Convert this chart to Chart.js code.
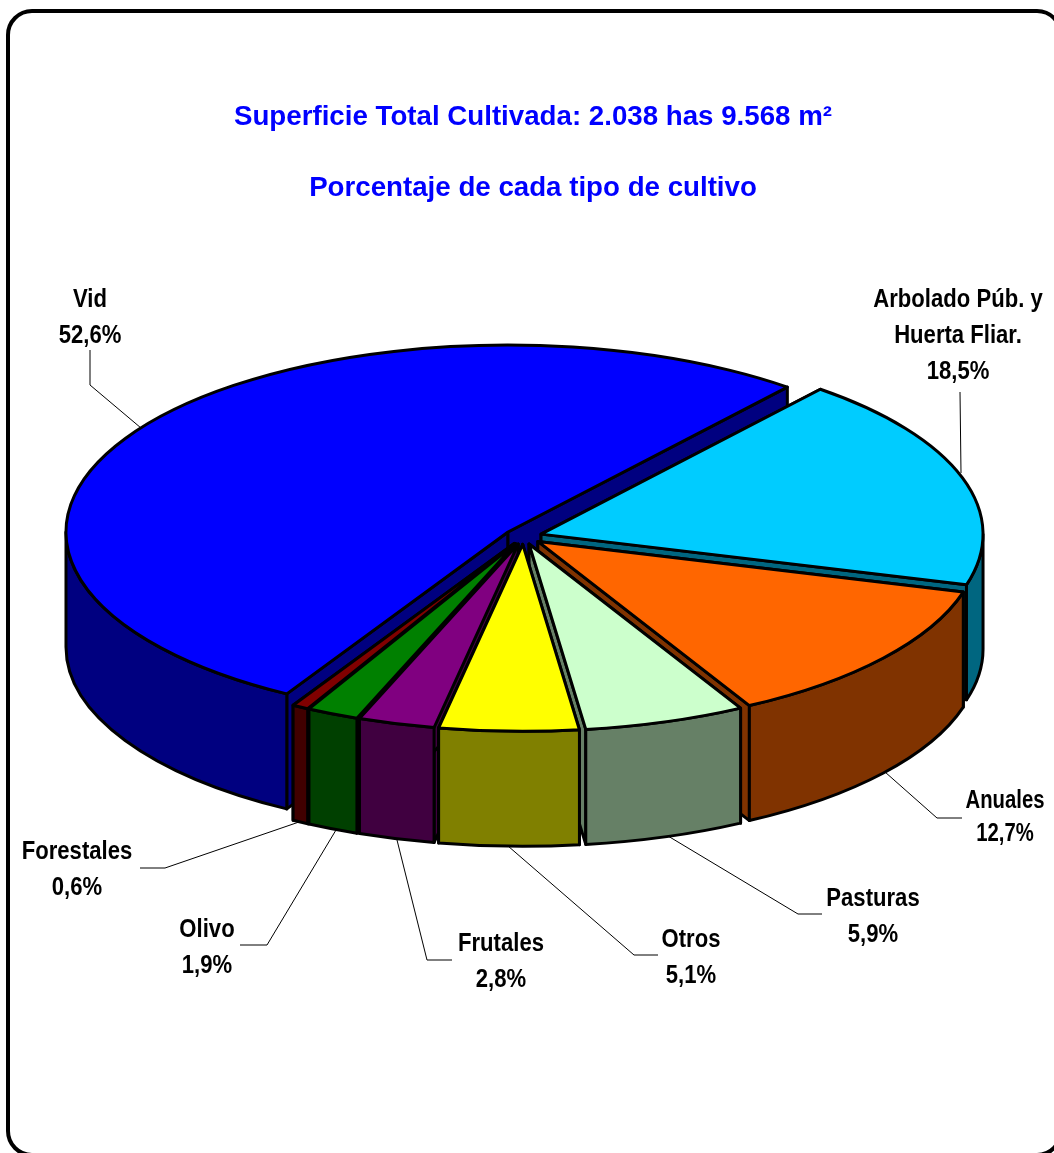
<!DOCTYPE html>
<html>
<head>
<meta charset="utf-8">
<script src="https://cdn.jsdelivr.net/npm/chart.js@4"></script>
<style>
  html, body { margin: 0; padding: 0; background: #fff; overflow: hidden; width: 1054px; height: 1153px; }
  #box { position: absolute; left: 6px; top: 9px; width: 1057px; height: 1148px; box-sizing: border-box; border: 4px solid #000; border-radius: 26px; }
  canvas { position: absolute; left: 0; top: 0; }
</style>
</head>
<body>
<div id="box"></div>
<canvas id="chart" width="1066" height="1153"></canvas>
<script>
// Data, clockwise from the right edge of the Vid slice
const categories = [['Arbolado Púb. y', 'Huerta Fliar.'], ['Anuales'], ['Pasturas'], ['Otros'], ['Frutales'], ['Olivo'], ['Forestales'], ['Vid']];
const values = [18.5, 12.7, 5.9, 5.1, 2.8, 1.9, 0.6, 52.6];
const topColors = ['#00CCFF', '#FF6600', '#CCFFCC', '#FFFF00', '#800080', '#008000', '#800000', '#0000FF'];
const wallColors = ['#006680', '#803300', '#668066', '#808000', '#400040', '#004000', '#400000', '#000080'];
const titleLines = ['Superficie Total Cultivada: 2.038 has 9.568 m²', 'Porcentaje de cada tipo de cultivo'];

// Tilted view of the pie
const CX = 523.3, CY = 536.5, TILT = 0.423, DEPTH = 115;

// Where each label sits and its leader line
const labelCenters = [[958, 300], [1005, 801], [873, 899], [691, 940], [501, 944], [207, 930], [77, 852], [90, 300]];
const labelStretch = [0.85, 0.78, 0.85, 0.85, 0.85, 0.85, 0.85, 0.85];
const leaders = [
  [[960, 392], [961, 473]],
  [[962, 818], [937, 818], [885, 772]],
  [[822, 914], [798, 914], [668, 836]],
  [[658, 955], [634, 955], [508, 846]],
  [[452, 960], [427, 960], [397, 840]],
  [[240, 945], [267, 945], [336, 830]],
  [[140, 868], [165, 868], [299, 822]],
  [[90, 350], [90, 385], [141, 428]]
];

const pie3d = {
  id: 'pie3d',
  // replaces the flat arcs with extruded ones built from the arc geometry
  beforeDatasetDraw(chart, args) {
    const ctx = chart.ctx;
    const arcs = chart.getDatasetMeta(args.index).data;
    const order = arcs.map((a, i) => i).sort((a, b) => midSin(arcs[a]) - midSin(arcs[b]));
    ctx.save();
    ctx.lineWidth = 3;
    ctx.lineJoin = 'round';
    ctx.strokeStyle = '#000';
    order.forEach(i => drawSlice(ctx, arcs[i], topColors[i], wallColors[i]));
    ctx.restore();
    return false;
  },
  afterDraw(chart) {
    const ctx = chart.ctx;
    ctx.save();
    ctx.strokeStyle = '#000';
    ctx.lineWidth = 1;
    leaders.forEach(pts => {
      ctx.beginPath();
      pts.forEach((p, n) => n ? ctx.lineTo(p[0], p[1]) : ctx.moveTo(p[0], p[1]));
      ctx.stroke();
    });
    ctx.fillStyle = '#000';
    ctx.font = 'bold 26px "Liberation Sans"';
    ctx.textAlign = 'center';
    ctx.textBaseline = 'middle';
    categories.forEach((lines, i) => {
      const rows = lines.concat(values[i].toFixed(1).replace('.', ',') + '%');
      rows.forEach((t, n) => {
        ctx.save();
        ctx.translate(labelCenters[i][0], labelCenters[i][1] + n * (i === 1 ? 33 : 36));
        ctx.scale(labelStretch[i], 1);
        ctx.fillText(t, 0, 0);
        ctx.restore();
      });
    });
    ctx.restore();
  }
};

function midSin(arc) {
  return Math.sin((arc.startAngle + arc.endAngle) / 2);
}

function drawSlice(ctx, arc, top, wall) {
  const r = arc.outerRadius;
  const a0 = arc.startAngle, a1 = arc.endAngle;
  const mid = (a0 + a1) / 2;
  const off = arc.options.offset;
  const x = CX + off * Math.cos(mid);
  const y = CY + off * Math.sin(mid) * TILT;
  const rim = a => [x + r * Math.cos(a), y + r * Math.sin(a) * TILT];

  ctx.fillStyle = wall;
  // cut faces
  [a0, a1].forEach(a => {
    const p = rim(a);
    ctx.beginPath();
    ctx.moveTo(x, y);
    ctx.lineTo(p[0], p[1]);
    ctx.lineTo(p[0], p[1] + DEPTH);
    ctx.lineTo(x, y + DEPTH);
    ctx.closePath();
    ctx.fill();
    ctx.stroke();
  });
  // outer wall, front half of the rim only
  for (let n = -1; n <= 1; n++) {
    const from = Math.max(a0, n * 2 * Math.PI);
    const to = Math.min(a1, n * 2 * Math.PI + Math.PI);
    if (to <= from) continue;
    ctx.beginPath();
    ctx.ellipse(x, y, r, r * TILT, 0, from, to);
    ctx.ellipse(x, y + DEPTH, r, r * TILT, 0, to, from, true);
    ctx.closePath();
    ctx.fill();
    ctx.stroke();
  }
  // top face
  ctx.fillStyle = top;
  ctx.beginPath();
  ctx.moveTo(x, y);
  ctx.ellipse(x, y, r, r * TILT, 0, a0, a1);
  ctx.closePath();
  ctx.fill();
  ctx.stroke();
}

new Chart(document.getElementById('chart'), {
  type: 'pie',
  data: {
    labels: categories,
    datasets: [{ data: values, backgroundColor: topColors, offset: 18.6 }]
  },
  options: {
    responsive: false,
    animation: false,
    events: [],
    radius: 442,
    rotation: 39.2,
    plugins: {
      legend: { display: false },
      tooltip: { enabled: false },
      title: {
        display: true,
        text: titleLines,
        color: '#0000FF',
        font: { family: '"Liberation Sans"', weight: 'bold', size: 27.7, lineHeight: 2.563 },
        padding: { top: 82, bottom: 0 }
      }
    }
  },
  plugins: [pie3d]
});
</script>
</body>
</html>
